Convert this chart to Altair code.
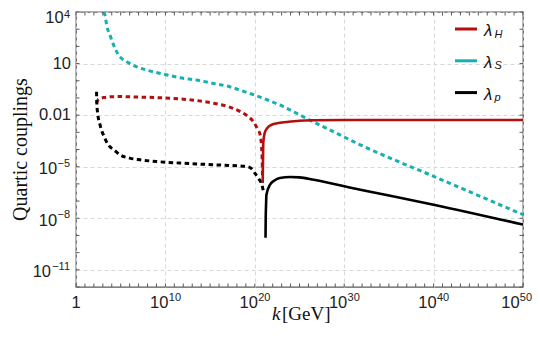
import altair as alt
import pandas as pd

# ---- data (log10 k, log10 |lambda|) ----
S_logk = [3.13, 3.25, 3.43, 3.81, 4.0, 4.37, 4.93, 5.68, 6.8, 7.9, 9.78, 11.65, 13.5, 15.4,
          17.2, 19.1, 21.0, 22.8, 24.7, 26.6, 28.5, 31.8, 40.0, 50.0]
S_logl = [4.0, 3.81, 3.23, 2.65, 2.36, 1.87, 1.39, 1.10, 0.81, 0.62, 0.39, 0.17, 0.04, -0.16,
          -0.35, -0.68, -1.03, -1.41, -1.9, -2.41, -2.89, -3.73, -5.56, -7.79]

H_neg_logk = [2.3, 2.45, 2.7, 3.1, 4.0, 5.0, 7.0, 9.0, 11.65, 13.5, 15.4, 17.0, 18.4, 19.3,
              19.85, 20.3, 20.6, 20.75, 20.82, 20.86]
H_neg_logl = [-1.31, -1.12, -1.02, -0.98, -0.93, -0.92, -0.95, -0.98, -1.06, -1.15, -1.31, -1.5,
              -1.80, -2.1, -2.38, -2.8, -3.15, -3.8, -4.5, -5.5]
H_pos_logk = [20.88, 20.92, 20.95, 21.1, 21.4, 21.8, 22.5, 23.6, 25.0, 26.6, 30.0, 50.0]
H_pos_logl = [-5.95, -4.5, -3.6, -3.05, -2.75, -2.58, -2.47, -2.4, -2.33, -2.3, -2.28, -2.28]

P_neg_logk = [2.3, 2.32, 2.4, 2.69, 3.1, 3.62, 4.3, 4.93, 6.0, 7.17, 9.0, 11.65, 15.4, 19.1,
              19.6, 20.0, 20.5, 20.8, 20.95]
P_neg_logl = [-0.64, -1.2, -1.8, -2.57, -3.2, -3.73, -4.05, -4.31, -4.5, -4.6, -4.7, -4.79,
              -4.89, -4.99, -5.1, -5.37, -5.75, -6.05, -6.4]
P_pos_logk = [21.2, 21.22, 21.26, 21.3, 21.7, 22.2, 22.8, 23.96, 25.0, 26.6, 31.8, 40.0, 50.0]
P_pos_logl = [-9.14, -8.0, -7.2, -6.63, -6.05, -5.8, -5.66, -5.6, -5.62, -5.76, -6.34, -7.21, -8.37]

series_names = ["lH", "lS", "lp"]
series_colors = ["#b30f0f", "#16b0b0", "#000000"]
legend_sub = ["H", "S", "p"]

x_ticks = [1.0, 1e10, 1e20, 1e30, 1e40, 1e50]
x_base = ["1", "10", "10", "10", "10", "10"]
x_exp = ["", "10", "20", "30", "40", "50"]
y_ticks = [1e4, 10.0, 0.01, 1e-5, 1e-8, 1e-11]
y_base = ["10", "10", "0.01", "10", "10", "10"]
y_exp = ["4", "", "", "−5", "−8", "−11"]

W, H = 447, 275
BASE_FS, EXP_FS = 16.5, 11
LABEL_FONT = "Liberation Sans"
LABEL_COL = "#222"
CHAR_W = {c: 0.556 for c in "0123456789"}
CHAR_W.update({"−": 0.584, ".": 0.278})


def twidth(s, fs):
    return sum(CHAR_W.get(c, 0.556) for c in s) * fs


def seg(series, segid, lk, ll):
    return pd.DataFrame({"series": series, "seg": segid,
                         "k": [10.0 ** a for a in lk], "lam": [10.0 ** b for b in ll]})


dashed_df = pd.concat([seg("lH", "h1", H_neg_logk, H_neg_logl),
                       seg("lp", "p1", P_neg_logk, P_neg_logl),
                       seg("lS", "s1", S_logk, S_logl)])
solid_df = pd.concat([seg("lH", "h2", H_pos_logk, H_pos_logl),
                      seg("lp", "p2", P_pos_logk, P_pos_logl)])

xscale = alt.Scale(type="log", domain=[1, 1e50], nice=False)
yscale = alt.Scale(type="log", domain=[1e-12, 1e4], nice=False)
xaxis = alt.Axis(values=x_ticks, labels=False, title=None)
yaxis = alt.Axis(values=y_ticks, labels=False, title=None)
X = alt.X("k:Q", scale=xscale, axis=xaxis)
Y = alt.Y("lam:Q", scale=yscale, axis=yaxis)
C = alt.Color("series:N", scale=alt.Scale(domain=series_names, range=series_colors), legend=None)

solid = alt.Chart(solid_df).mark_line(strokeWidth=2.6, interpolate="monotone", clip=True).encode(
    x=X, y=Y, color=C, detail="seg:N")
dashed = alt.Chart(dashed_df).mark_line(strokeWidth=3, strokeDash=[4.5, 3.5],
                                        interpolate="monotone", clip=True).encode(
    x=X, y=Y, color=C, detail="seg:N")

# inward ticks on the frame
frame_col = "#5a5a5a"
xdec = pd.DataFrame({"k": [10.0 ** i for i in range(0, 51)]})
ydec = pd.DataFrame({"lam": [10.0 ** i for i in range(-12, 5)]})
tick_layers = [
    alt.Chart(xdec).mark_rule(color=frame_col, strokeWidth=1).encode(x=X, y=alt.value(H), y2=alt.value(H - 3.5)),
    alt.Chart(xdec).mark_rule(color=frame_col, strokeWidth=1).encode(x=X, y=alt.value(0), y2=alt.value(3.5)),
    alt.Chart(ydec).mark_rule(color=frame_col, strokeWidth=1).encode(y=Y, x=alt.value(0), x2=alt.value(3.5)),
    alt.Chart(ydec).mark_rule(color=frame_col, strokeWidth=1).encode(y=Y, x=alt.value(W), x2=alt.value(W - 3.5)),
]

# tick labels with real superscripts
label_layers = []
XB_Y = 295.5   # baseline of x base labels (px from plot top)
XE_Y = 288.5   # baseline of x exponents
for i, (t, b, e) in enumerate(zip(x_ticks, x_base, x_exp)):
    d = pd.DataFrame({"k": [t]})
    shift = -6.5 if i == len(x_ticks) - 1 else 0.0
    if e == "":
        label_layers.append(alt.Chart(d).mark_text(
            text=b, font=LABEL_FONT, fontSize=BASE_FS, color=LABEL_COL, align="center",
            baseline="alphabetic", dx=shift).encode(x=X, y=alt.value(XB_Y)))
    else:
        wb, we = twidth(b, BASE_FS), twidth(e, EXP_FS)
        start = -(wb + we) / 2 + shift
        label_layers.append(alt.Chart(d).mark_text(
            text=b, font=LABEL_FONT, fontSize=BASE_FS, color=LABEL_COL, align="left",
            baseline="alphabetic", dx=start).encode(x=X, y=alt.value(XB_Y)))
        label_layers.append(alt.Chart(d).mark_text(
            text=e, font=LABEL_FONT, fontSize=EXP_FS, color=LABEL_COL, align="left",
            baseline="alphabetic", dx=start + wb + 0.3).encode(x=X, y=alt.value(XE_Y)))

for i, (t, b, e) in enumerate(zip(y_ticks, y_base, y_exp)):
    d = pd.DataFrame({"lam": [t]})
    if e == "":
        label_layers.append(alt.Chart(d).mark_text(
            text=b, font=LABEL_FONT, fontSize=BASE_FS, color=LABEL_COL, align="right",
            baseline="middle", dx=-5).encode(y=Y, x=alt.value(0)))
    else:
        we = twidth(e, EXP_FS)
        bdy, edy = (5.5, 2.5) if i == 0 else (2.5, -3.0)
        label_layers.append(alt.Chart(d).mark_text(
            text=e, font=LABEL_FONT, fontSize=EXP_FS, color=LABEL_COL, align="right",
            baseline="middle", dx=-6, dy=edy).encode(y=Y, x=alt.value(0)))
        label_layers.append(alt.Chart(d).mark_text(
            text=b, font=LABEL_FONT, fontSize=BASE_FS, color=LABEL_COL, align="right",
            baseline="middle", dx=-6 - we - 0.3, dy=bdy).encode(y=Y, x=alt.value(0)))

one = pd.DataFrame({"t": [0]})
legend_layers = []
for i, (col, sub) in enumerate(zip(series_colors, legend_sub)):
    yy = 17 + 31.8 * i
    legend_layers.append(alt.Chart(one).mark_rule(color=col, strokeWidth=3).encode(
        x=alt.value(379), x2=alt.value(401), y=alt.value(yy)))
    legend_layers.append(alt.Chart(one).mark_text(
        text="λ", font="Liberation Sans", fontStyle="italic", fontSize=17, align="left",
        baseline="alphabetic", color="#111").encode(x=alt.value(408), y=alt.value(yy + 7.3)))
    legend_layers.append(alt.Chart(one).mark_text(
        text=sub, font="Liberation Sans", fontStyle="italic", fontSize=11, align="left",
        baseline="alphabetic", color="#111").encode(x=alt.value(418.5), y=alt.value(yy + 8.5)))

titles = [
    alt.Chart(one).mark_text(text="Quartic couplings", font="Liberation Serif", fontSize=20,
                             angle=270, align="center", baseline="alphabetic", color="#111").encode(
        x=alt.value(-49.5), y=alt.value(H / 2)),
    alt.Chart(one).mark_text(text="k", font="Liberation Serif", fontStyle="italic", fontSize=19,
                             align="right", baseline="alphabetic", color="#111").encode(
        x=alt.value(204.5), y=alt.value(308)),
    alt.Chart(one).mark_text(text="[GeV]", font="Liberation Serif", fontSize=19,
                             align="left", baseline="alphabetic", color="#111").encode(
        x=alt.value(206), y=alt.value(308)),
]

chart = alt.layer(dashed, solid, *tick_layers, *label_layers, *legend_layers, *titles).properties(
    width=W, height=H,
    autosize=alt.AutoSizeParams(type="none"),
    padding={"left": 68, "top": 4, "right": 9, "bottom": 44},
).configure_view(stroke=frame_col, strokeWidth=1.3).configure_axis(
    domain=False, ticks=False, grid=True, gridColor="#d4d4d4", gridDash=[4, 3], gridWidth=0.9)

chart.save("out.html", embed_options={"renderer": "svg", "actions": False})
